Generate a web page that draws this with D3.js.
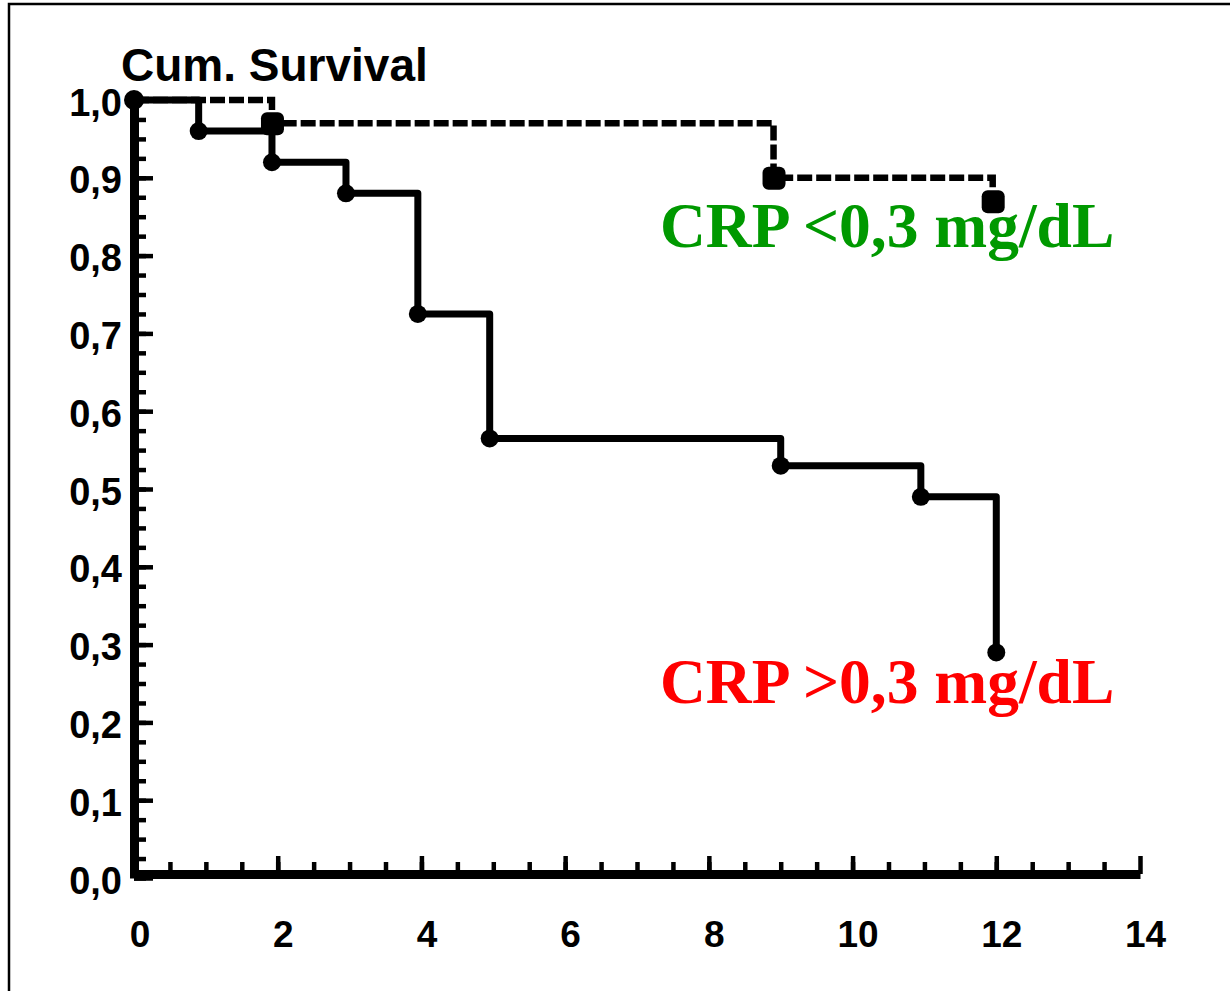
<!DOCTYPE html>
<html>
<head>
<meta charset="utf-8">
<script src="https://cdn.jsdelivr.net/npm/d3@7"></script>
<style>
  body { margin: 0; background: #fff; }
</style>
</head>
<body>
<div id="chart"></div>
<script>
// survival data
const lowTimes = [0, 1.92, 8.9, 11.95];
const lowSurv = [1.0, 0.97, 0.90, 0.87];
const highTimes = [0, 0.9, 1.92, 2.95, 3.95, 4.95, 9.0, 10.95, 12.0];
const highSurv = [1.0, 0.96, 0.92, 0.88, 0.725, 0.565, 0.53, 0.49, 0.29];
const xTicks = [0, 2, 4, 6, 8, 10, 12, 14];
const yTicks = [0, 0.1, 0.2, 0.3, 0.4, 0.5, 0.6, 0.7, 0.8, 0.9, 1.0];
const lowLabel = "CRP <0,3 mg/dL";
const highLabel = "CRP >0,3 mg/dL";

function createSurvivalPlot() {
    let w = 1230;
    let h = 991;
    const svg = d3.select("#chart")
                .append("svg")
                .attr("width", w)
                .attr("height", h);

    let xScale = d3.scaleLinear()
                    .domain([0, 14])
                    .range([134, 1140]);
    let yScale = d3.scaleLinear()
                    .domain([0, 1])
                    .range([878, 100]);
    let xAxisY = yScale(0) - 4;

    // frame of the scanned figure (only top and left edges are visible)
    svg.append("path")
        .attr("d", `M9,${h} L9,4 L${w},4`)
        .attr("fill", "none")
        .attr("stroke", "black")
        .attr("stroke-width", 2.5);

    // minor ticks
    svg.append("g")
        .attr("transform", `translate(${xScale(0)},0)`)
        .call(d3.axisLeft(yScale).tickValues(d3.range(0, 40).map(i => i * 0.025)).tickSizeInner(-12).tickSizeOuter(0).tickFormat(""))
        .call(g => g.select(".domain").remove())
        .selectAll("line").attr("stroke-width", 4.5);
    svg.append("g")
        .attr("transform", `translate(0,${xAxisY})`)
        .call(d3.axisBottom(xScale).tickValues(d3.range(1, 28).map(i => i * 0.5)).tickSizeInner(-12).tickSizeOuter(0).tickFormat(""))
        .call(g => g.select(".domain").remove())
        .selectAll("line").attr("stroke-width", 4.5);

    // y axis
    let yAxis = svg.append("g")
        .attr("transform", `translate(${xScale(0)},0)`)
        .call(d3.axisLeft(yScale).tickValues(yTicks).tickSizeInner(-19).tickSizeOuter(0).tickPadding(12)
              .tickFormat(d => d3.format(".1f")(d).replace(".", ",")));
    yAxis.select(".domain").attr("stroke-width", 9);
    yAxis.selectAll(".tick line").attr("stroke-width", 4.5);
    yAxis.selectAll("text")
        .attr("fill", "black")
        .attr("font-family", "Liberation Sans, Arial")
        .attr("font-weight", "bold")
        .attr("font-size", "38px")
        .attr("transform", "translate(0,3)");

    // x axis
    let xAxis = svg.append("g")
        .attr("transform", `translate(0,${xAxisY})`)
        .call(d3.axisBottom(xScale).tickValues(xTicks.slice(1)).tickSizeInner(-18).tickSizeOuter(0).tickPadding(47));
    xAxis.select(".domain").attr("stroke-width", 9);
    xAxis.selectAll(".tick line").attr("stroke-width", 4.5);
    xAxis.selectAll("text")
        .attr("fill", "black")
        .attr("font-family", "Liberation Sans, Arial")
        .attr("font-weight", "bold")
        .attr("font-size", "37px")
        .attr("transform", "translate(5,0)");
    // the 0 label sits under the corner
    svg.append("text")
        .attr("x", xScale(0) + 6)
        .attr("y", xAxisY + 47)
        .attr("dy", "0.71em")
        .attr("text-anchor", "middle")
        .attr("font-family", "Liberation Sans, Arial")
        .attr("font-weight", "bold")
        .attr("font-size", "37px")
        .attr("fill", "black")
        .text(xTicks[0]);

    // y title
    svg.append("text")
        .attr("x", 121)
        .attr("y", 81)
        .attr("font-family", "Liberation Sans, Arial")
        .attr("font-weight", "bold")
        .attr("font-size", "46px")
        .attr("fill", "black")
        .text("Cum. Survival");

    let stepLine = d3.line()
        .x(d => xScale(d[0]))
        .y(d => yScale(d[1]))
        .curve(d3.curveStepAfter);

    let lowData = lowTimes.map((t, i) => [t, lowSurv[i]]);
    let highData = highTimes.map((t, i) => [t, highSurv[i]]);

    // CRP > 0.3 (solid)
    svg.append("path")
        .datum(highData)
        .attr("d", stepLine)
        .attr("fill", "none")
        .attr("stroke", "black")
        .attr("stroke-width", 7)
        .attr("stroke-linejoin", "round");
    svg.selectAll(".high-dot")
        .data(highData)
        .enter()
        .append("circle")
        .attr("class", "high-dot")
        .attr("cx", d => xScale(d[0]))
        .attr("cy", d => yScale(d[1]))
        .attr("r", (d, i) => i == 0 ? 10 : 9)
        .attr("fill", "black");

    // CRP < 0.3 (dashed)
    svg.append("path")
        .datum(lowData)
        .attr("d", stepLine)
        .attr("fill", "none")
        .attr("stroke", "black")
        .attr("stroke-width", 6.5)
        .attr("stroke-dasharray", "15,4");
    svg.selectAll(".low-dot")
        .data(lowData.slice(1))
        .enter()
        .append("rect")
        .attr("class", "low-dot")
        .attr("x", d => xScale(d[0]) - 11)
        .attr("y", d => yScale(d[1]) - 11)
        .attr("width", 23)
        .attr("height", 23)
        .attr("rx", 6)
        .attr("fill", "black");

    // group labels
    svg.append("text")
        .attr("x", 660)
        .attr("y", 247)
        .attr("font-family", "Liberation Serif, Times New Roman")
        .attr("font-weight", "bold")
        .attr("font-size", "63.5px")
        .attr("fill", "#009900")
        .text(lowLabel);
    svg.append("text")
        .attr("x", 660)
        .attr("y", 703)
        .attr("font-family", "Liberation Serif, Times New Roman")
        .attr("font-weight", "bold")
        .attr("font-size", "63.5px")
        .attr("fill", "#ff0000")
        .text(highLabel);
}
createSurvivalPlot();
</script>
</body>
</html>
